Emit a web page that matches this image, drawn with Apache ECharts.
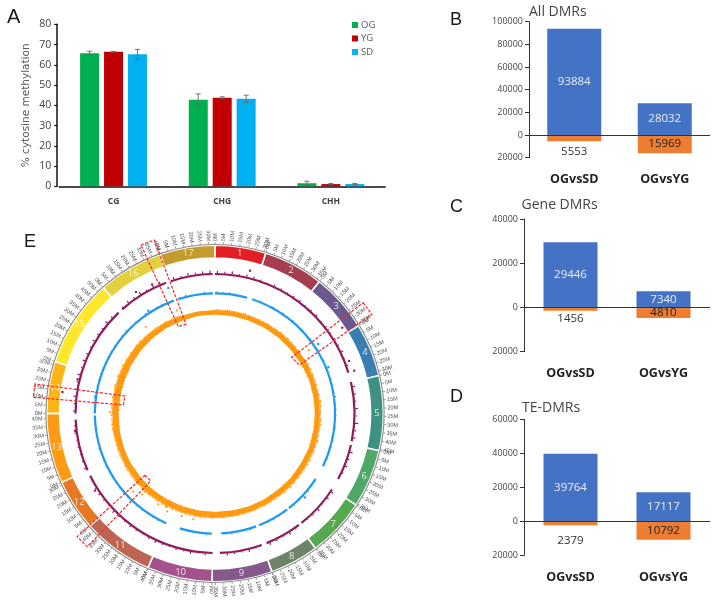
<!DOCTYPE html>
<html><head><meta charset="utf-8">
<style>html,body{margin:0;padding:0;background:#fff}#c{width:719px;height:600px;filter:blur(0.3px)}</style>
<script src="https://cdn.jsdelivr.net/npm/echarts@6/dist/echarts.min.js"></script>
</head><body><div id="c"></div>
<script>
// ---------- Panel A ----------
const contexts = ['CG','CHG','CHH'];
const groups = ['OG','YG','SD'];
const methOG = [65.7,42.8,1.5];
const methYG = [66.4,43.7,1.1];
const methSD = [65.2,43.2,1.1];
const errOG = [1.0,2.8,1.0];
const errYG = [0.2,0.5,0.3];
const errSD = [2.4,1.8,0.3];
// ---------- Panels B, C, D ----------
const comparisons = ['OGvsSD','OGvsYG'];
const allUp = [93884,28032];
const allDown = [5553,15969];
const geneUp = [29446,7340];
const geneDown = [1456,4810];
const teUp = [39764,17117];
const teDown = [2379,10792];
// ---------- Panel E: chromosomes, Mb ----------
const chromNames = ['1','2','3','4','5','6','7','8','9','10','11','12','13','14','15','16','17'];
const chromMb = [31.4,37.1,36.1,32.9,46.1,36.1,36.3,30.2,37.1,40.2,43.8,31.8,43.2,32.1,54.3,40.4,33.9];
// Orange track body, radius per 10 degrees clockwise from the top
const orangeBodyOuter = [103.5,103.5,103.5,103.5,104,104,104.5,104.5,105,105,105,105,104.5,104.5,104,104,104,104,104,104,104,104,104,104,103.5,103,103,102.5,102.5,103,103,103.5,103.5,103.5,103.5,103.5];
const orangeBodyInner = [99,99,99,99,99,99,99.5,100,100,100,100,100,99.5,99.5,99,99,99,98.5,98.5,98.5,98.5,98.5,98.5,98,98,97.5,97,96.5,96.5,96.5,97,97.5,98,98.5,98.5,99];
// Orange fringe heights beyond the body, per 2 degrees (A), offset 1 degree (B), and inward
const orangeFringeA = [
0.5,1,0.4,0.6,1.2,0.5,0.3,0.8,1,0.4,0.5,0.9,0.3,0.6,1.3,0.7,0.3,0.5,1,0.6,
0.4,0.8,1.4,0.5,0.7,1,0.4,1.2,0.6,0.8,1.1,1.5,0.6,0.9,1.6,0.7,1.2,1.8,0.6,1,
1.3,0.7,1.6,2,0.8,1.2,0.6,1.5,1.9,0.7,1,1.4,0.6,1.8,1.1,0.5,1.3,0.9,1.7,0.6,
0.8,1.4,1,0.6,1.2,0.5,0.9,1.5,0.6,1,0.7,1.3,0.5,0.8,1.1,0.6,1.2,0.4,0.9,1,
0.5,0.7,1.2,0.4,0.8,1,0.3,0.6,1.1,0.5,0.7,1.3,0.4,0.9,1.4,0.6,0.4,1.1,1.5,0.7,
0.5,1.2,1.6,0.6,0.9,1.3,0.5,1.4,0.8,1,1.5,0.7,1.1,0.5,1.2,0.9,0.6,1,0.4,0.8,
1.1,0.4,0.6,1.3,0.5,0.8,1.2,0.4,0.7,1,0.5,0.9,1.4,0.6,0.4,1.1,0.8,1.6,0.5,1,
1.5,0.7,1.2,2,0.9,0.6,1.6,1.1,0.7,1.8,0.9,1.3,0.6,1.5,1,0.8,0.4,1.2,0.6,0.5,
1,0.6,0.4,0.9,0.7,0.3,1.1,0.5,0.8,0.4];
const orangeFringeB = [
0.8,0.3,0.7,1.1,0.4,0.9,0.6,0.4,1.2,0.7,0.3,0.6,1,0.4,0.5,1.1,0.8,0.4,0.7,1.2,
0.5,0.3,0.9,1.1,0.4,0.6,1.3,0.7,0.5,1.4,0.6,0.9,1.7,0.5,1.1,1.3,0.7,0.5,1.6,1.2,
0.6,1.9,0.9,1.1,1.5,0.6,1.8,0.8,1.2,1.6,0.5,1.1,2.1,0.7,1,1.6,0.8,0.6,1.2,1.4,
1.1,0.6,1.5,0.9,0.5,1.4,0.7,1,0.6,1.2,0.9,0.5,1.3,0.7,0.4,1,0.8,0.6,1.1,0.5,
0.9,0.6,0.4,1,0.6,0.5,0.9,1.2,0.4,0.8,1,0.5,1.1,0.6,0.8,1.2,0.7,0.5,0.9,1.3,
1.1,0.4,0.8,1.5,0.6,0.7,1.2,0.9,0.5,1.3,0.6,1.4,0.7,1,0.4,0.6,1.2,0.5,0.9,0.6,
0.4,0.8,1,0.5,0.9,0.4,0.6,1.1,0.8,0.4,1.2,0.6,0.5,1,1.3,0.7,1.4,0.6,1.1,1.8,
0.6,1,1.7,0.8,1.3,1.9,0.5,0.8,1.4,0.6,1.2,0.7,1.1,0.5,0.7,1.2,0.9,0.5,1,0.7,
0.4,0.8,1,0.5,0.4,0.9,0.6,0.3,0.7,1];
const orangeFringeIn = [
0.3,0.6,0.2,0.4,0.7,0.3,0.2,0.5,0.6,0.3,0.4,0.2,0.5,0.7,0.3,0.4,0.2,0.6,0.3,0.5,
0.3,0.6,0.2,0.5,0.3,0.7,0.4,0.2,0.6,0.3,0.5,0.8,0.3,0.4,0.7,0.2,0.5,0.3,0.8,0.4,
0.6,0.3,0.9,0.5,0.3,0.7,0.4,0.8,0.3,0.6,0.4,0.9,0.3,0.5,0.7,0.3,0.6,0.4,0.8,0.5,
0.3,0.7,0.4,0.5,0.9,0.3,0.6,0.4,0.7,0.3,0.5,0.6,0.3,0.8,0.4,0.5,0.3,0.7,0.4,0.6,
0.3,0.5,0.7,0.2,0.4,0.6,0.3,0.5,0.7,0.4,0.3,0.6,0.4,0.8,0.3,0.5,0.7,0.3,0.6,0.4,
0.8,0.3,0.5,0.6,0.9,0.4,0.7,0.3,0.6,0.5,0.8,0.4,0.3,0.7,0.5,0.3,0.6,0.4,0.7,0.3,
0.5,0.8,0.3,0.6,0.9,0.4,0.7,1,0.5,0.8,0.4,1.1,0.6,0.9,0.5,0.7,1.2,0.4,0.8,1,
0.6,0.9,0.4,1.1,0.7,0.5,1,0.6,0.8,0.4,0.7,0.9,0.5,0.6,0.3,0.7,0.4,0.5,0.3,0.6,
0.4,0.2,0.6,0.3,0.5,0.2,0.4,0.6,0.3,0.5];
// Purple and blue tracks: arcs between gaps (degrees), spikes per 3 degrees (radius units)
const purpleGaps = [[73,77],[101.5,103],[118,123],[141.7,143],[158.3,160.4],[178,181],[243.5,246],[267.5,270],[316.3,318.3],[339.5,341.5],[359,360]];
const blueGaps = [[15.5,18],[116,123],[142,143],[158.5,160],[177,181.5],[197,204],[269,270],[340,342],[359,360]];
const purpleSpikes = [
2,1.5,2.5,1,2,1.5,1,0.5,1.5,1,0.5,1,1.5,0.5,1,1.5,0.5,1,0.5,1,
1,2,0.5,1,1.5,1,2,1.5,1,2.5,1,3,1.5,2,1,2.5,1.5,2,1,1.5,
1,2,1.5,0.5,2,1,0.5,1.5,1,2,0.5,1.5,2,1,0.5,2,1,1.5,2,0.5,
1,1.5,0.5,2,1,1.5,0.5,1,2,1.5,0.5,1,1.5,0.5,1,2,0.5,1,1.5,1,
0.5,1,1.5,1,0.5,1,0.5,1.5,1,2,1.5,1,2,1,1.5,2.5,1,2,1.5,1,
2,1.5,1,2.5,1.5,2,1,2,1.5,2.5,1,2,2.5,1.5,2,1,2.5,1.5,2,2.5];
const blueSpikes = [
1,0.5,1,0.5,0.3,0.5,0.3,0.5,0.3,0.5,0.3,0.5,0.3,0.3,0.5,0.3,0.3,0.5,0.3,0.3,
0.3,0.5,0.3,0.3,0.5,0.3,0.3,1,0.3,0.5,0.3,0.3,0.5,0.3,0.3,0.5,0.3,0.3,0.5,0.3,
0.5,0.3,0.5,1,0.5,0.3,1,0.3,0.5,0.3,1,0.5,0.3,0.3,1,0.3,0.5,1,0.3,0.5,
0.5,1,0.3,0.5,0.3,0.3,0.5,0.3,0.3,0.5,0.3,0.3,0.3,0.5,0.3,0.3,0.5,0.3,0.3,0.5,
0.3,0.5,0.3,0.3,0.5,0.3,0.5,0.3,0.5,0.3,0.3,0.5,0.3,1,0.3,0.5,0.3,0.3,0.5,0.3,
0.3,0.5,0.3,0.5,1,0.3,0.5,0.3,1,0.3,0.5,1,0.3,0.5,0.3,1,0.5,0.3,1,0.5];
// Isolated points [degrees, radius]
const purpleDots = [[13.8,147],[56,153.5],[68.6,144],[72.9,145.7],[278,154],[284,141.5],[263,141],[237.3,142.6],[327,145],[334,143.5]];
const blueDots = [[56,124.5],[339.6,134],[278,121],[133,123],[67.8,122.4],[327,122.5]];
const orangeDots = [[56,113.4],[339.7,110],[221.8,105],[226.3,113],[191.6,108],[207.7,105.3],[270.8,105],[321.4,111],[206,109],[222,109],[212,107],[198,108]];
// Dashed boxes, corners as [degrees, radius]
const boxes = [
 [[336.3,184],[340.7,183.8],[342,94],[337.1,94.2]],
 [[53.2,185],[57.7,185.5],[60.1,97.3],[53.8,95]],
 [[279.3,182.4],[275.1,182.4],[275.3,92.1],[281,91.7]],
 [[228.6,93.4],[223.6,93.2],[223.8,184.5],[228.2,184.8]]
];

const chromColors = ['#E31E24','#A63E50','#69598C','#3A7DB0','#3F9184','#4FA868','#56A84E','#6E8469','#85598C','#A5518E','#BD6552','#E87722','#FF9A14','#FDB515','#FFE82A','#E2D13C','#C49B2E'];
const text = '#595959';
const labelFont = 'Open Sans';

function abs(v){return String(Math.abs(v));}

const option = {animation:false,backgroundColor:'#fff',
  title:[], legend:{data:groups,left:347,top:15,orient:'vertical',itemWidth:6,itemHeight:6,itemGap:3.5,
    textStyle:{fontFamily:labelFont,fontSize:9.5,color:text,padding:[0,0,0,-2]},icon:'rect',selectedMode:false},
  grid:[],xAxis:[],yAxis:[],series:[],
  polar:{center:[215,413.5],radius:[0,200]},
  angleAxis:{type:'value',min:0,max:360,startAngle:90,clockwise:true,show:false},
  radiusAxis:{type:'value',min:0,max:200,show:false}
};

// Panel letters and titles
[['A',7,7,20],['B',450,11,18],['C',450,198,18],['D',450,388,18],['E',24,233,18]].forEach(t=>{
  option.title.push({text:t[0],left:t[1],top:t[2],padding:0,textStyle:{fontFamily:'Liberation Sans',fontWeight:'normal',fontSize:t[3],color:'#1a1a1a'}});
});
[['All DMRs',529,5],['Gene DMRs',521.5,198],['TE-DMRs',522,401]].forEach(t=>{
  option.title.push({text:t[0],left:t[1],top:t[2],padding:0,textStyle:{fontFamily:labelFont,fontWeight:'normal',fontSize:14,color:'#444'}});
});

// Panel A
option.grid.push({left:59.2,top:24.3,width:326,height:162});
option.xAxis.push({type:'category',gridIndex:0,data:contexts,
  axisLine:{lineStyle:{color:'#111',width:1.5}},axisTick:{show:false},
  axisLabel:{margin:11,fontFamily:labelFont,fontWeight:'bold',fontSize:8.5,color:'#404040'}});
option.yAxis.push({type:'value',gridIndex:0,min:0,max:80,interval:10,offset:2,
  name:'% cytosine methylation',nameLocation:'middle',nameRotate:90,nameGap:25.5,
  nameTextStyle:{fontFamily:'DejaVu Sans',fontSize:10.5,color:text},
  axisLine:{show:true,lineStyle:{color:'#111',width:1.5}},axisTick:{show:true,length:3,lineStyle:{color:'#111',width:1.2}},
  splitLine:{show:false},axisLabel:{margin:6,fontFamily:labelFont,fontSize:10.5,color:'#404040'}});
const methSets=[methOG,methYG,methSD], errSets=[errOG,errYG,errSD], methColors=['#00B050','#C00000','#00B0F0'];
groups.forEach((g,i)=>{
  option.series.push({type:'bar',name:g,xAxisIndex:0,yAxisIndex:0,data:methSets[i],barWidth:19,barGap:'26%',
    itemStyle:{color:methColors[i]}});
});
groups.forEach((g,i)=>{
  option.series.push({type:'custom',name:g+' error',xAxisIndex:0,yAxisIndex:0,coordinateSystem:'cartesian2d',z:5,
    data:contexts.map((c,k)=>[k,methSets[i][k]+errSets[i][k],methSets[i][k]-errSets[i][k]]),
    encode:{x:0,y:[1,2]},
    renderItem(p,api){
      const a=api.coord([api.value(0),api.value(1)]),b=api.coord([api.value(0),api.value(2)]);
      const x=a[0]+(i-1)*24;
      return {type:'group',children:[
        {type:'line',shape:{x1:x,y1:a[1],x2:x,y2:b[1]},style:{stroke:'#666',lineWidth:0.9}},
        {type:'line',shape:{x1:x-2.5,y1:a[1],x2:x+2.5,y2:a[1]},style:{stroke:'#666',lineWidth:0.9}},
        {type:'line',shape:{x1:x-2.5,y1:b[1],x2:x+2.5,y2:b[1]},style:{stroke:'#666',lineWidth:0.9}}]};
    }});
});

// Panels B-D
function dmrPanel(idx,grid,yMax,catMargin,up,down,outsideOffset){
  option.grid.push(grid);
  option.xAxis.push({type:'category',gridIndex:idx,data:comparisons,
    axisLine:{show:false,onZero:false},axisTick:{show:false},
    axisLabel:{margin:catMargin,fontFamily:labelFont,fontWeight:'bold',fontSize:12.5,color:'#222'}});
  option.yAxis.push({type:'value',gridIndex:idx,min:-20000,max:yMax,interval:20000,
    axisLine:{show:true,lineStyle:{color:'#333',width:1}},axisTick:{show:true,length:4,lineStyle:{color:'#333'}},
    splitLine:{show:false},axisLabel:{margin:6,formatter:abs,fontFamily:labelFont,fontSize:9,color:'#444'}});
  option.series.push({type:'bar',name:'up'+idx,xAxisIndex:idx,yAxisIndex:idx,stack:'s'+idx,barWidth:54,
    itemStyle:{color:'#4472C4'},data:up,
    label:{show:true,position:'inside',fontFamily:labelFont,fontSize:11.5,color:'#E8EEF8'},
    markLine:{silent:true,symbol:'none',label:{show:false},lineStyle:{color:'#333',type:'solid',width:1},data:[{yAxis:0}]},z:2});
  option.series.push({type:'bar',name:'down'+idx,xAxisIndex:idx,yAxisIndex:idx,stack:'s'+idx,barWidth:54,
    itemStyle:{color:'#ED7D31'},
    data:down.map((v,i)=>i===0?{value:-v,label:{position:'bottom',distance:outsideOffset,color:'#333'}}:{value:-v}),
    label:{show:true,position:'inside',fontFamily:labelFont,fontSize:11.5,color:'#222',formatter:p=>abs(p.value)},z:2});
}
dmrPanel(1,{left:529,top:21.7,width:181,height:136},100000,15,allUp,allDown,4);
dmrPanel(2,{left:524,top:219,width:186,height:132.7},40000,15,geneUp,geneDown,2);
dmrPanel(3,{left:524,top:419.3,width:186,height:136},60000,16,teUp,teDown,9);

// Panel E
const totalMb = chromMb.reduce((a,b)=>a+b,0);
const degPerMb = 360/totalMb;
function arcShape(api,cs,c){
  const a=api.coord([c[2],c[1]]),b=api.coord([c[2],c[3]]),ri=api.coord([c[0],c[1]]);
  return {cx:cs.cx,cy:cs.cy,r:Math.hypot(a[0]-cs.cx,a[1]-cs.cy),r0:Math.hypot(ri[0]-cs.cx,ri[1]-cs.cy),
    startAngle:Math.atan2(a[1]-cs.cy,a[0]-cs.cx),endAngle:Math.atan2(b[1]-cs.cy,b[0]-cs.cx),clockwise:true};
}
function cellsSeries(name,cells,color,lineWidth,z){
  return {type:'custom',name,coordinateSystem:'polar',z:z||3,data:cells.map(c=>[c[0],c[1],c[2],c[3]]),encode:{radius:0,angle:1},
    renderItem(p,api){
      const c=cells[p.dataIndex];
      return {type:'sector',shape:arcShape(api,p.coordSys,c),style:{fill:color||c[4],stroke:lineWidth?'#fff':null,lineWidth:lineWidth||0}};
    }};
}
function ribbonSeries(name,ribbons,color,z){
  return {type:'custom',name,coordinateSystem:'polar',z:z||3,data:ribbons.map(r=>[r[0][0][1],r[0][0][0]]),encode:{radius:0,angle:1},
    renderItem(p,api){
      const r=ribbons[p.dataIndex],pts=r[0].concat(r[1].slice().reverse()).map(c=>api.coord([c[1],c[0]]));
      return {type:'polygon',shape:{points:pts},style:{fill:color}};
    }};
}
// rows: [degrees, radius from, radius to]
function spikeSeries(name,rows,color,width){
  return {type:'custom',name,coordinateSystem:'polar',z:3,data:rows.map(r=>[r[1],r[0],r[2]]),encode:{radius:0,angle:1},
    renderItem(p,api){
      const r=rows[p.dataIndex],a=api.coord([r[1],r[0]]),b=api.coord([r[2],r[0]]);
      return {type:'line',shape:{x1:a[0],y1:a[1],x2:b[0],y2:b[1]},style:{stroke:color,lineWidth:width}};
    }};
}
function dotSeries(name,dots,color,size){
  return {type:'custom',name,coordinateSystem:'polar',z:4,data:dots.map(d=>[d[1],d[0]]),encode:{radius:0,angle:1},
    renderItem(p,api){
      const xy=api.coord([api.value(0),api.value(1)]);
      return {type:'circle',shape:{cx:xy[0],cy:xy[1],r:size},style:{fill:color}};
    }};
}
let cum=0; const ringCells=[],rimCells=[],tickRows=[],chromLabels=[];
chromMb.forEach((len,i)=>{
  const a0=cum*degPerMb,a1=(cum+len)*degPerMb;
  ringCells.push([155.5,a0,168.3,a1,chromColors[i]]);
  rimCells.push([168.5,a0,169.6,a1]);
  chromLabels.push([162,(a0+a1)/2,chromNames[i]]);
  for(let m=0;m<=len;m+=5){tickRows.push([170,(cum+m)*degPerMb,m+'M']);}
  cum+=len;
});
option.series.push(cellsSeries('chromosomes',ringCells,null,1.6,3));
option.series.push(cellsSeries('rim',rimCells,'#8a8a8a',0,3));
option.series.push({type:'custom',name:'chromosome names',coordinateSystem:'polar',z:6,data:chromLabels,encode:{radius:0,angle:1},
  renderItem(p,api){const c=chromLabels[p.dataIndex],xy=api.coord([c[0],c[1]]);
    return {type:'text',x:xy[0],y:xy[1],style:{text:c[2],align:'center',verticalAlign:'middle',fill:'rgba(255,255,255,.8)',fontFamily:labelFont,fontSize:9.5}};}});
option.series.push({type:'custom',name:'ticks',coordinateSystem:'polar',z:3,data:tickRows,encode:{radius:0,angle:1},
  renderItem(p,api){const c=tickRows[p.dataIndex];
    const a=api.coord([169.6,c[1]]),b=api.coord([171.5,c[1]]),t=api.coord([172.5,c[1]]);
    const right=c[1]<180, rot=(right?90-c[1]:270-c[1])*Math.PI/180;
    return {type:'group',children:[
      {type:'line',shape:{x1:a[0],y1:a[1],x2:b[0],y2:b[1]},style:{stroke:'#666',lineWidth:0.7}},
      {type:'text',x:t[0],y:t[1],rotation:rot,style:{text:c[2],align:right?'left':'right',verticalAlign:'middle',fill:'#555',fontFamily:'Liberation Sans',fontSize:5.6}}]};}});

function arcsOf(gaps,inner,outer){
  const out=[];let s=0;
  gaps.forEach(g=>{if(g[0]>s)out.push([inner,s,outer,g[0]]);s=g[1];});
  if(s<360)out.push([inner,s,outer,360]);
  return out;
}
function trackSpikes(gaps,spikes,outer){
  const rows=[];
  spikes.forEach((h,i)=>{const a=i*3+1;if(!gaps.some(g=>a>=g[0]-0.4&&a<=g[1]+0.4))rows.push([a,outer-0.2,outer+h]);});
  return rows;
}
const purple='#8E1B5E',blue='#1E9BF0',orange='#FF9A10';
option.series.push(cellsSeries('purple',arcsOf(purpleGaps,138.4,140.6),purple));
option.series.push(spikeSeries('purple spikes',trackSpikes(purpleGaps,purpleSpikes,140.6),purple,1.2));
option.series.push(dotSeries('purple dots',purpleDots,purple,1.2));
option.series.push(cellsSeries('blue',arcsOf(blueGaps,119,121.2),blue));
option.series.push(spikeSeries('blue spikes',trackSpikes(blueGaps,blueSpikes,121.2),blue,1.2));
option.series.push(dotSeries('blue dots',blueDots,blue,1.2));
const bodyAngles=orangeBodyOuter.map((v,i)=>i*10);
const orangeBody=[bodyAngles.map((a,i)=>[a,orangeBodyOuter[i]]).concat([[360,orangeBodyOuter[0]]]),bodyAngles.map((a,i)=>[a,orangeBodyInner[i]]).concat([[360,orangeBodyInner[0]]])];
option.series.push(ribbonSeries('orange',[orangeBody],orange));
const fringe=[];
orangeFringeA.forEach((h,i)=>{const a=i*2,b=orangeBodyOuter[Math.floor(a/10)%36];fringe.push([a,b-0.5,b+h]);});
orangeFringeB.forEach((h,i)=>{const a=i*2+1,b=orangeBodyOuter[Math.floor(a/10)%36];fringe.push([a,b-0.5,b+h]);});
orangeFringeIn.forEach((h,i)=>{const a=i*2,b=orangeBodyInner[Math.floor(a/10)%36];fringe.push([a,b+0.5,b-h]);});
option.series.push(spikeSeries('orange fringe',fringe,orange,1.4));
option.series.push(dotSeries('orange dots',orangeDots,orange,1.1));
option.series.push({type:'custom',name:'highlight boxes',coordinateSystem:'polar',z:8,data:boxes.map(b=>[b[0][1],b[0][0]]),encode:{radius:0,angle:1},
  renderItem(p,api){const pts=boxes[p.dataIndex].map(c=>api.coord([c[1],c[0]]));
    return {type:'polygon',shape:{points:pts},style:{fill:'none',stroke:'#F5282E',lineWidth:1.2,lineDash:[3,1.5]}};}});

const chart=echarts.init(document.getElementById('c'),null,{renderer:'canvas'});
chart.setOption(option);
</script></body></html>
